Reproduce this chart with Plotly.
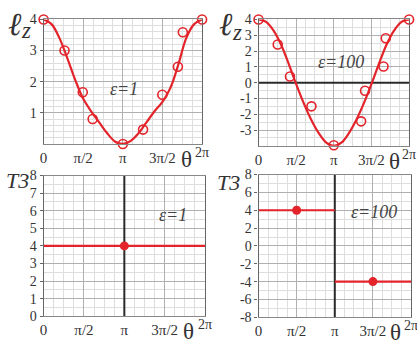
import numpy as np
import plotly.graph_objects as go

PI = np.pi

# Sampled l_z data (theta in units of pi)
eps1_pts_theta = [0.0, 0.264, 0.494, 0.619, 1.0, 1.255, 1.498, 1.695, 1.757, 2.0]
eps1_pts_lz = [4.0, 3.0, 1.66, 0.80, 0.0, 0.46, 1.58, 2.48, 3.59, 4.0]
eps1_curve_theta = [0.0, 0.1, 0.2, 0.3, 0.4, 0.5, 0.6, 0.7, 0.8, 0.9, 1.0,
                    1.1, 1.2, 1.3, 1.4, 1.5, 1.6, 1.7, 1.8, 1.9, 2.0]
eps1_curve_lz = [4.0, 3.85, 3.4, 2.75, 2.05, 1.45, 1.05, 0.7, 0.35, 0.08, 0.0,
                 0.1, 0.35, 0.7, 1.05, 1.35, 1.8, 2.55, 3.4, 3.85, 4.0]

eps100_pts_theta = [0.0, 0.255, 0.418, 0.703, 1.0, 1.363, 1.415, 1.66, 1.69, 2.0]
eps100_pts_lz = [4.0, 2.41, 0.39, -1.50, -3.96, -2.45, -0.51, 1.02, 2.81, 4.0]
eps100_curve_theta = eps1_curve_theta
eps100_curve_lz = [4.0, 3.85, 3.3, 2.4, 1.2, -0.1, -1.3, -2.35, -3.2, -3.8, -4.0,
                   -3.8, -3.2, -2.35, -1.3, -0.1, 1.2, 2.4, 3.3, 3.85, 4.0]

# T3 data
t3_eps1_theta = [0.0, 2.0]
t3_eps1_val = [4.0, 4.0]
t3_eps1_dot_theta = [1.0]
t3_eps1_dot_val = [4.0]
t3_eps100_left_theta = [0.0, 1.0]
t3_eps100_left_val = [4.0, 4.0]
t3_eps100_right_theta = [1.0, 2.0]
t3_eps100_right_val = [-4.0, -4.0]
t3_eps100_dot_theta = [0.5, 1.5]
t3_eps100_dot_val = [4.0, -4.0]

x_tick_vals = [0, 0.5, 1.0, 1.5]
x_tick_text = ["0", "π/2", "π", "3π/2"]

RED = "#e3242b"
DARK = "#2a2a2a"
W, H = 417, 354
FONT = "Liberation Serif"


def px_x(a, b):
    return [a / W, b / W]


def px_y(top, bottom):
    return [1 - bottom / H, 1 - top / H]


def rad(v):
    return [t * PI for t in v]


fig = go.Figure()


def ref_line(x, y, xa, ya):
    fig.add_trace(go.Scatter(x=x, y=y, mode="lines", line=dict(color=DARK, width=2),
                             xaxis=xa, yaxis=ya, showlegend=False, hoverinfo="skip"))


# top-left: l_z, eps=1
fig.add_trace(go.Scatter(x=rad(eps1_curve_theta), y=eps1_curve_lz, mode="lines",
                         line=dict(color=RED, width=2.2, shape="spline", smoothing=1.0),
                         xaxis="x", yaxis="y", showlegend=False))
fig.add_trace(go.Scatter(x=rad(eps1_pts_theta), y=eps1_pts_lz, mode="markers",
                         marker=dict(symbol="circle-open", color=RED, size=9, line=dict(width=1.6)),
                         xaxis="x", yaxis="y", showlegend=False, cliponaxis=False))

# top-right: l_z, eps=100
ref_line([0, 2 * PI], [0, 0], "x2", "y2")
fig.add_trace(go.Scatter(x=rad(eps100_curve_theta), y=eps100_curve_lz, mode="lines",
                         line=dict(color=RED, width=2.2, shape="spline", smoothing=1.0),
                         xaxis="x2", yaxis="y2", showlegend=False))
fig.add_trace(go.Scatter(x=rad(eps100_pts_theta), y=eps100_pts_lz, mode="markers",
                         marker=dict(symbol="circle-open", color=RED, size=9, line=dict(width=1.6)),
                         xaxis="x2", yaxis="y2", showlegend=False, cliponaxis=False))

# bottom-left: T3, eps=1
ref_line([PI, PI], [0, 8], "x3", "y3")
fig.add_trace(go.Scatter(x=rad(t3_eps1_theta), y=t3_eps1_val, mode="lines",
                         line=dict(color=RED, width=2.2), xaxis="x3", yaxis="y3", showlegend=False))
fig.add_trace(go.Scatter(x=rad(t3_eps1_dot_theta), y=t3_eps1_dot_val, mode="markers",
                         marker=dict(color=RED, size=9), xaxis="x3", yaxis="y3", showlegend=False))

# bottom-right: T3, eps=100
ref_line([PI, PI], [-8, 8], "x4", "y4")
fig.add_trace(go.Scatter(x=rad(t3_eps100_left_theta), y=t3_eps100_left_val, mode="lines",
                         line=dict(color=RED, width=2.2), xaxis="x4", yaxis="y4", showlegend=False))
fig.add_trace(go.Scatter(x=rad(t3_eps100_right_theta), y=t3_eps100_right_val, mode="lines",
                         line=dict(color=RED, width=2.2), xaxis="x4", yaxis="y4", showlegend=False))
fig.add_trace(go.Scatter(x=rad(t3_eps100_dot_theta), y=t3_eps100_dot_val, mode="markers",
                         marker=dict(color=RED, size=9), xaxis="x4", yaxis="y4", showlegend=False))


def xaxis(domain, anchor):
    return dict(domain=domain, anchor=anchor, range=[0, 2 * PI],
                tickmode="array", tickvals=rad(x_tick_vals), ticktext=x_tick_text,
                tickfont=dict(family=FONT, size=15, color="#333"),
                showgrid=True, gridcolor="#b0b0b0", gridwidth=1,
                minor=dict(tickvals=list(np.arange(0, 2 * PI + 1e-9, PI / 8)),
                           showgrid=True, gridcolor="#dedede", gridwidth=1),
                showline=True, linecolor="#888", linewidth=1, mirror=True,
                zeroline=False, ticks="", ticklabelstandoff=0)


def yaxis(domain, anchor, rng, minor_dtick, labels):
    return dict(domain=domain, anchor=anchor, range=rng,
                tickmode="array", tickvals=labels, ticktext=[str(v) for v in labels],
                tickfont=dict(family=FONT, size=14, color="#333"),
                showgrid=True, gridcolor="#b0b0b0", gridwidth=1,
                minor=dict(tickvals=list(np.arange(rng[0], rng[1] + 1e-9, minor_dtick)),
                           showgrid=True, gridcolor="#dedede", gridwidth=1),
                showline=True, linecolor="#666", linewidth=1.2, mirror=True,
                zeroline=False, ticks="outside", ticklen=3, tickcolor="#666",
                ticklabelstandoff=0)


fig.update_layout(
    width=W, height=H, margin=dict(l=0, r=0, t=0, b=0),
    paper_bgcolor="white", plot_bgcolor="white",
    xaxis=xaxis(px_x(40, 200), "y"),
    yaxis=yaxis(px_y(13, 143), "x", [0, 4], 0.2, [1, 2, 3, 4]),
    xaxis2=xaxis(px_x(257, 409), "y2"),
    yaxis2=yaxis(px_y(13, 145), "x2", [-4, 4], 0.5, [-3, -2, -1, 0, 1, 2, 3, 4]),
    xaxis3=xaxis(px_x(40, 203), "y3"),
    yaxis3=yaxis(px_y(176, 323), "x3", [0, 8], 0.5, [0, 1, 2, 3, 4, 5, 6, 7, 8]),
    xaxis4=xaxis(px_x(257, 411), "y4"),
    yaxis4=yaxis(px_y(175, 324), "x4", [-8, 8], 1, [-8, -6, -4, -2, 0, 2, 4, 6, 8]),
)

ann = []
for xa, ya, ymin in [("x", "y", 0), ("x2", "y2", -4), ("x3", "y3", 0), ("x4", "y4", -8)]:
    ann.append(dict(x=2 * PI, y=ymin, xref=xa, yref=ya, text="2π", showarrow=False,
                    xanchor="center", yanchor="top", yshift=1,
                    font=dict(family=FONT, size=14, color="#333")))
    ann.append(dict(x=1.8 * PI, y=ymin, xref=xa, yref=ya, text="θ", showarrow=False,
                    xanchor="center", yanchor="top", yshift=-1,
                    font=dict(family=FONT, size=23, color="#333")))

ann += [
    dict(x=1.02 * PI, y=1.75, xref="x", yref="y", text="<i>ε=1</i>", showarrow=False,
         font=dict(family=FONT, size=18, color="#444")),
    dict(x=1.09 * PI, y=1.33, xref="x2", yref="y2", text="<i>ε=100</i>", showarrow=False,
         font=dict(family=FONT, size=18, color="#444")),
    dict(x=1.6 * PI, y=5.75, xref="x3", yref="y3", text="<i>ε=1</i>", showarrow=False,
         font=dict(family=FONT, size=18, color="#444")),
    dict(x=1.52 * PI, y=3.8, xref="x4", yref="y4", text="<i>ε=100</i>", showarrow=False,
         font=dict(family=FONT, size=18, color="#444")),
    # axis titles
    dict(x=2 / W, y=1 + 3 / H, xref="paper", yref="paper", text="<i>ℓ</i>", showarrow=False,
         xanchor="left", yanchor="top", font=dict(family=FONT, size=32, color="#333")),
    dict(x=15 / W, y=1 - 9 / H, xref="paper", yref="paper", text="<i>z</i>", showarrow=False,
         xanchor="left", yanchor="top", font=dict(family=FONT, size=23, color="#333")),
    dict(x=215 / W, y=1 + 3 / H, xref="paper", yref="paper", text="<i>ℓ</i>", showarrow=False,
         xanchor="left", yanchor="top", font=dict(family=FONT, size=32, color="#333")),
    dict(x=228 / W, y=1 - 11 / H, xref="paper", yref="paper", text="<i>z</i>", showarrow=False,
         xanchor="left", yanchor="top", font=dict(family=FONT, size=23, color="#333")),
    dict(x=0 / W, y=1 - 166 / H, xref="paper", yref="paper", text="<i>T3</i>", showarrow=False,
         xanchor="left", yanchor="top", font=dict(family=FONT, size=22, color="#333")),
    dict(x=213 / W, y=1 - 168 / H, xref="paper", yref="paper", text="<i>T3</i>", showarrow=False,
         xanchor="left", yanchor="top", font=dict(family=FONT, size=22, color="#333")),
]
fig.update_layout(annotations=ann)

fig.write_html("out.html")
